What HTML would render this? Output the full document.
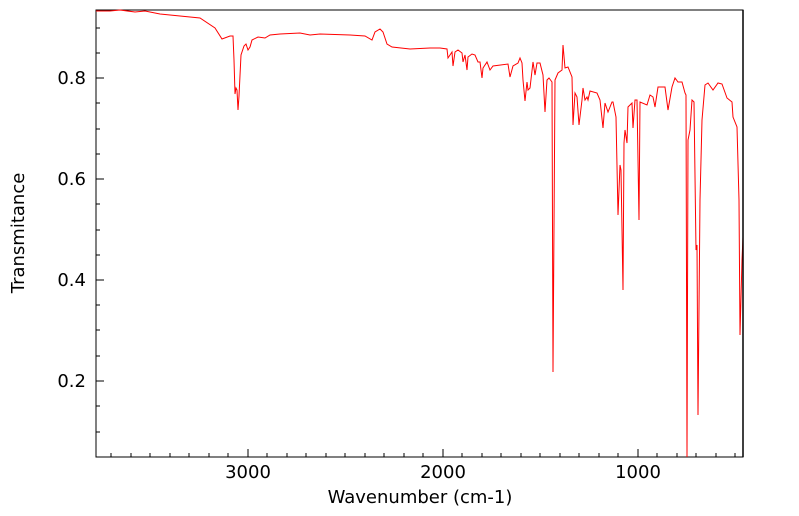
<!DOCTYPE html><html><head><style>body{margin:0;background:#fff}svg{display:block}text{font-family:"DejaVu Sans","Liberation Sans",sans-serif;font-size:18px;fill:#000}</style></head><body>
<svg width="799" height="516" viewBox="0 0 799 516">
<rect x="96" y="10" width="647" height="447" fill="none" stroke="#000" stroke-width="1"/>
<g stroke="#000" stroke-width="1">
<path d="M96 381h8M96 280h8M96 179h8M96 78h8"/>
<path d="M96 432h4M96 406h4M96 356h4M96 330h4M96 305h4M96 255h4M96 230h4M96 204h4M96 154h4M96 129h4M96 103h4M96 53h4M96 28h4"/>
<path d="M248 457v-8M443 457v-8M638 457v-8"/>
<path d="M111 457v-4M131 457v-4M150 457v-4M170 457v-4M189 457v-4M209 457v-4M228 457v-4M267 457v-4M287 457v-4M306 457v-4M326 457v-4M345 457v-4M365 457v-4M384 457v-4M404 457v-4M423 457v-4M462 457v-4M482 457v-4M501 457v-4M521 457v-4M540 457v-4M560 457v-4M579 457v-4M599 457v-4M618 457v-4M657 457v-4M677 457v-4M696 457v-4M716 457v-4M735 457v-4"/>
</g>
<polyline fill="none" stroke="#f00" stroke-width="1" points="96,11 110,11 120,10 135,12 145,11 160,14 200,18 215,28 222,39 230,36 233,36 234,60 235,94 236,88 237,90 238,110 239,96 241,55 244,46 246,44 248,50 250,47 252,40 258,37 265,38 270,35 280,34 300,33 310,35 320,34 350,35 365,36 372,40 375,32 380,29 383,32 387,44 392,47 410,49 430,48 440,48 447,49 448,58 452,52 453,66 455,52 458,50 462,53 463,62 465,55 467,70 468,57 472,54 475,55 478,62 480,62 482,78 483,68 487,62 490,70 493,66 508,64 510,77 513,66 518,63 520,58 522,63 523,80 525,101 527,82 528,90 530,88 533,62 535,75 537,63 540,63 543,75 545,112 547,80 549,78 552,82 553,372 555,80 558,73 562,70 563,45 565,68 568,67 572,77 573,125 575,93 577,97 579,125 582,100 583,88 585,100 587,97 588,100 590,91 597,93 600,100 603,128 605,103 608,112 612,102 613,102 616,117 618,215 620,165 621,170 623,290 624,143 625,130 627,143 628,107 632,103 633,128 635,100 637,100 639,220 640,102 647,105 650,95 653,97 655,107 658,87 665,87 668,110 672,87 675,78 678,82 682,82 685,93 686,95 687,457 688,140 690,130 692,100 694,102 696,250 697,245 698,415 700,200 702,120 705,85 708,83 713,90 718,83 722,84 727,98 732,102 733,117 737,127 739,200 740,335 742,260 743,237"/>
<line x1="743" y1="10" x2="743" y2="457" stroke="#000" stroke-width="1.5"/>
<text x="86" y="84" text-anchor="end">0.8</text>
<text x="86" y="185" text-anchor="end">0.6</text>
<text x="86" y="286" text-anchor="end">0.4</text>
<text x="86" y="387" text-anchor="end">0.2</text>
<text x="248" y="478" text-anchor="middle">3000</text>
<text x="443" y="478" text-anchor="middle">2000</text>
<text x="638" y="478" text-anchor="middle">1000</text>
<text x="420" y="503" text-anchor="middle">Wavenumber (cm-1)</text>
<text transform="translate(24,233) rotate(-90)" text-anchor="middle">Transmitance</text>
</svg></body></html>
